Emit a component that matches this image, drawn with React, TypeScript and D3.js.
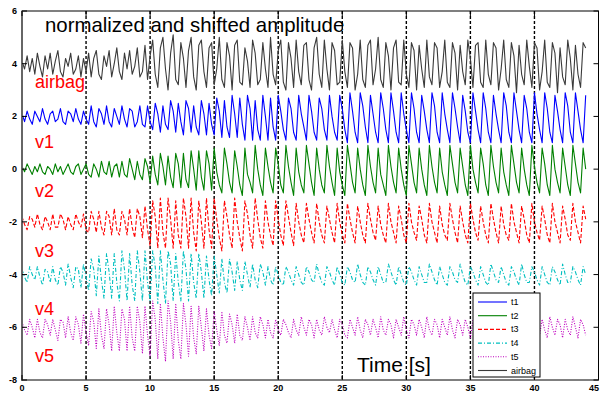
import React, { useEffect, useRef } from 'react';
import * as d3 from 'd3';

// sample step of the recorded signals, seconds
const dt = 0.2;

// offsets used to shift each normalized trace
const offsets = [4, 2, 0, -2, -4, -6];
const seriesNames = ['airbag', 'v1', 'v2', 'v3', 'v4', 'v5'];
const legendNames = ['t1', 't2', 't3', 't4', 't5', 'airbag'];

const xTicks = [0, 5, 10, 15, 20, 25, 30, 35, 40, 45];
const yTicks = [-8, -6, -4, -2, 0, 2, 4, 6];

// normalized amplitude, in tenths, before shifting
const airbag = [
  1, -2, 3, -3, 2, -4, 4, -1, -5, 3, -2, 4, -4, 1, 5, -3, -5, 2, -1, 4, -4, -2, 3, -5, 2,
  -3, 4, -5, 2, 5, -4, -6, 3, -1, 5, -5, 0, 6, -3, -6, 4, -2, 5, -4, -1, 6, -5, -3, 7, -6,
  3, 9, -4, -9, 6, 10, -2, -10, 4, 11, -6, -8, 8, 2, -9, 5, 10, -5, -10, 7, 9, -3, -9, 6, 8,
  -8, -2, 10, -6, -9, 8, 3, -10, 7, 9, -7, -8, 6, 1, -9, 9, 4, -8, -6, 8, -2, -9, 10, -4, -8,
  5, 9, -7, -10, 8, 2, -9, 9, -3, -8, 7, 8, -6, -10, 6, 10, -4, -9, 9, -2, -10, 8, 5, -8, -7,
  9, -3, -9, 8, 6, -10, -4, 9, -6, -9, 7, 9, -8, -2, 10, -6, -9, 8, 3, -10, 6, 9, -7, -8, 9,
  -4, -9, 8, 5, -10, 7, -2, -9, 9, -5, -8, 8, 6, -9, -3, 9, -7, -9, 8, 4, -10, 7, -3, -8, 9,
  2, -9, 7, 8, -7, -9, 9, -4, -8, 8, 6, -10, -2, 9, -6, -9, 8, 3, -11, 7, -4, -8, 9, -1, -9,
  8, 6, -10, -3, 9, -7, -9, 8, 4, -11, 6, -5, -8, 9, 2, -10, 7, -4, -9, 8, 6,
];

const v1 = [
  1, -2, 2, -1, -3, 2, 0, -2, 3, -1, -3, 1, 2, -2, -1, 3, -2, -3, 2, 1, -2, 3, -1, -3, 2,
  -1, -3, 4, -2, -4, 3, 1, -3, 4, -2, -4, 3, 0, -3, 4, -1, -4, 3, 2, -4, -2, 4, -3, -4, 4,
  -2, -5, 5, 1, -6, 4, -3, -5, 6, 2, -6, 5, -2, -7, 6, 3, -6, 4, -4, -7, 6, 1, -7, 5, -3,
  -7, 7, 2, -8, 6, -4, -8, 8, 1, -8, 7, -3, -9, 8, 3, -9, 6, -5, -9, 8, 0, -9, 7, -4, -9,
  8, 2, -5, -9, 7, 3, -6, -9, 8, 1, -4, -9, 8, 2, -6, -9, 7, 3, -5, -9, 8, 0, -6, -9, 8,
  3, -5, -10, 9, 2, -6, -10, 9, 4, -4, -10, 8, 1, -6, -10, 9, 3, -5, -10, 9, 2, -6, -10, 9, 1,
  -5, -10, 9, 3, -6, -10, 8, 2, -5, -10, 9, 4, -6, -10, 9, 1, -5, -10, 9, 3, -4, -10, 8, 2, -6,
  -10, 9, 2, -5, -10, 9, 3, -6, -10, 8, 1, -5, -10, 9, 4, -6, -10, 9, 2, -5, -10, 8, 3, -6, -10,
  9, 1, -5, -10, 9, 3, -6, -10, 8, 2, -5, -10, 9, 4, -6, -10, 9, 2, -5, -10, 8,
];

const v2 = [
  1, -1, 2, 0, -2, 1, -1, 2, -1, -2, 1, 0, -2, 2, -1, 1, -2, 0, 2, -1, -2, 1, 2, -2, 0,
  2, -2, -3, 2, 0, -3, 3, -1, -2, 3, -3, 1, 2, -3, 3, -2, -3, 4, 0, -4, 3, -2, -4, 4, 1,
  -5, 5, -2, -6, 6, 1, -6, 5, -3, -7, 6, 2, -7, 6, -4, -7, 7, 0, -8, 7, -3, -8, 7, 2, -8,
  8, -1, -6, -9, 8, 2, -5, -9, 7, 1, -6, -10, 8, -2, -5, -9, 9, 0, -6, -10, 8, 1, -5, -9, 8,
  2, -6, -9, 9, 1, -5, -10, 8, -1, -6, -9, 9, 2, -5, -10, 8, 0, -6, -9, 9, 1, -5, -10, 8, -1,
  -6, -10, 9, 2, -5, -9, 8, 0, -6, -10, 9, 1, -5, -9, 8, -2, -6, -10, 9, 1, -5, -9, 8, 0, -6,
  -10, 9, 2, -5, -9, 8, 0, -6, -10, 9, 1, -5, -9, 8, -1, -6, -10, 9, 2, -5, -9, 8, 1, -6, -10,
  9, 0, -5, -9, 8, 2, -6, -10, 9, 1, -5, -9, 8, -1, -6, -10, 9, 2, -5, -9, 8, 0, -6, -10, 9,
  1, -5, -9, 8, 2, -6, -10, 9, 0, -5, -9, 8, 1, -6, -10, 9, 2, -5, -9, 8, 0,
];

const v3 = [
  2, -1, -3, 2, 1, -2, 3, -1, -3, 2, 0, -3, 3, -2, -2, 3, 1, -3, 2, -1, -3, 3, 0, -2, 3,
  -3, -4, 4, 1, -4, 4, -2, -5, 4, 2, -5, 5, -3, -5, 4, 1, -5, 5, -2, -6, 5, 2, -6, 6, -3,
  -9, 8, 2, -10, 9, -4, -10, 9, 1, -10, 8, -5, -10, 9, 2, -10, 9, -4, -11, 8, 0, -10, 9, -3, -10,
  9, 1, -6, -11, 8, 2, -5, -10, 9, 0, -6, -11, 8, 3, -5, -10, 9, 1, -6, -10, 8, 0, -5, -9, 8,
  1, -5, -9, 8, 2, -4, -9, 7, 0, -5, -8, 7, 1, -4, -8, 7, 0, -5, -8, 6, 1, -4, -8, 7, 0,
  -5, -8, 7, 1, -4, -8, 6, 0, -5, -8, 7, 1, -4, -7, 6, -1, -5, -8, 7, 0, -4, -8, 6, 1, -5,
  -8, 7, 0, -4, -7, 6, 1, -5, -8, 7, 0, -4, -8, 6, -1, -5, -7, 7, 1, -4, -8, 6, 0, -5, -8,
  7, 1, -4, -7, 6, 0, -5, -8, 7, 1, -4, -8, 6, -1, -5, -7, 7, 0, -4, -8, 6, 1, -5, -8, 7,
  0, -4, -7, 6, 1, -5, -8, 7, 0, -4, -8, 6, 1, -5, -7, 7, 0, -4, -8, 6, 1,
];

const v4 = [
  2, -1, -3, 3, 0, -2, 3, -1, -4, 2, 1, -3, 3, -2, -4, 3, 1, -4, 4, -1, -5, 3, 2, -5, 4,
  -1, -6, 6, 2, -8, 7, -2, -9, 8, 1, -9, 8, -3, -10, 9, 2, -10, 8, -4, -10, 9, 1, -10, 9, -3,
  -10, 9, 3, -11, 9, -2, -11, 9, 4, -10, 8, -3, -10, 9, 2, -10, 8, -3, -9, 8, 1, -9, 7, -2, -8,
  7, 0, -7, 6, -3, -7, 6, 1, -6, 5, -2, -6, 5, 0, -5, 4, -2, -5, 4, 1, -4, 3, -2, -4, 3,
  0, -3, -4, 3, 1, -2, -4, 3, 0, -3, -4, 3, 1, -2, -3, 4, 0, -3, -4, 3, 1, -2, -4, 3, 0,
  -3, -4, 3, 1, -2, -3, 4, 0, -3, -4, 3, 1, -2, -4, 3, 0, -3, -3, 4, 1, -2, -4, 3, 0, -3,
  -4, 3, 1, -2, -4, 3, 0, -3, -3, 4, 1, -2, -4, 3, 0, -3, -4, 3, 1, -2, -3, 4, 0, -3, -4,
  3, 1, -2, -4, 3, 0, -3, -4, 4, 1, -2, -3, 3, 0, -3, -4, 3, 1, -2, -4, 4, 0, -3, -3, 3,
  1, -2, -4, 3, 0, -3, -4, 3, 1, -2, -4, 4, 0, -3, -3, 3, 1, -2, -4, 3, 0,
];

const v5 = [
  2, -1, -3, 3, 0, -4, 3, -2, -4, 3, 1, -3, 3, -1, -5, 3, 2, -4, 4, -2, -5, 4, 1, -6, 5,
  -2, -7, 6, 2, -8, 7, -3, -8, 7, 1, -9, 8, -2, -9, 7, 3, -9, 8, -4, -9, 8, 2, -10, 8, -3,
  -11, 10, 3, -12, 9, -4, -13, 10, 2, -12, 9, -5, -12, 9, 1, -11, 8, -4, -10, 8, 0, -9, 7, -3, -8,
  6, -1, -7, 6, -3, -6, 5, 1, -6, 5, -3, -5, 4, 0, -5, 4, -2, -4, 4, 1, -4, 3, -2, -4, 3,
  -1, -3, 3, 1, -2, -4, 3, -1, -3, 4, 0, -3, 3, 1, -4, 3, -1, -3, 4, 0, -2, 3, -1, -4, 3,
  1, -3, -4, 3, 0, -3, 4, -1, -4, 3, 1, -3, 3, 0, -4, 4, -1, -3, 3, 1, -4, 3, 0, -3, 4,
  -1, -4, 3, 1, -3, 3, 0, -4, 4, -1, -3, 3, 1, -4, 3, 0, -3, 4, -1, -4, 3, 1, -3, 3, 0,
  -4, 3, -1, -3, 4, 0, -4, 3, 1, -3, 3, -1, -4, 4, 0, -3, 3, 1, -4, 3, -1, -3, 4, 0, -4,
  3, 1, -3, 3, -1, -4, 4, 0, -3, 3, 1, -4, 3, -1, -3, 4, 0, -4, 3, 1, -3,
];

const traces = [airbag, v1, v2, v3, v4, v5];

// where the red trace names sit (value on the y axis of their baseline)
const labelY = [3.08, 0.81, -1.05, -3.33, -5.53, -7.31];

const styles = [
  { color: '#3a3a3a', dash: null },
  { color: '#0000ff', dash: null },
  { color: '#008000', dash: null },
  { color: '#ff0000', dash: '4,2' },
  { color: '#00bfbf', dash: '4,2,1,2' },
  { color: '#bf00bf', dash: '1,1.5' },
];
// legend order: t1..t5, then airbag
const legendStyle = [1, 2, 3, 4, 5, 0];

const W = 600;
const H = 393;
const font = '"Liberation Sans", Arial, sans-serif';

const App = () => {
  const ref = useRef<SVGSVGElement>(null);

  useEffect(() => {
    if (!ref.current) return;
    const svg = d3.select(ref.current);
    svg.selectAll('*').remove();

    const left = 22, right = 598.5, top = 11, bottom = 380;
    const x = d3.scaleLinear().domain([0, 45]).range([left, right]);
    const y = d3.scaleLinear().domain([-8, 6]).range([bottom, top]);

    svg.append('rect').attr('width', W).attr('height', H).attr('fill', '#fff');

    // vertical dashed grid
    svg.append('g')
      .selectAll('line')
      .data(xTicks.filter(t => t > 0 && t < 45))
      .enter()
      .append('line')
      .attr('x1', d => x(d)).attr('x2', d => x(d))
      .attr('y1', top).attr('y2', bottom)
      .attr('stroke', '#000')
      .attr('stroke-width', 1.4)
      .attr('stroke-dasharray', '3,2');

    // traces
    const line = d3.line<number>()
      .x((_, i) => x(i * dt))
      .y(d => y(d));

    traces.forEach((tr, k) => {
      const vals = tr.map(v => offsets[k] + v / 10);
      const p = svg.append('path')
        .attr('d', line(vals) as string)
        .attr('fill', 'none')
        .attr('stroke', styles[k].color)
        .attr('stroke-width', 1.1)
        .attr('stroke-linejoin', 'round');
      if (styles[k].dash) p.attr('stroke-dasharray', styles[k].dash as string);
    });

    // frame
    svg.append('rect')
      .attr('x', left).attr('y', top)
      .attr('width', right - left).attr('height', bottom - top)
      .attr('fill', 'none').attr('stroke', '#000').attr('stroke-width', 1);
    svg.append('line')
      .attr('x1', left).attr('x2', left).attr('y1', top).attr('y2', bottom + 1)
      .attr('stroke', '#666').attr('stroke-width', 2);

    // inward ticks
    const tk = 5;
    const tg = svg.append('g').attr('stroke', '#000').attr('stroke-width', 1);
    xTicks.forEach(t => {
      tg.append('line').attr('x1', x(t)).attr('x2', x(t)).attr('y1', bottom).attr('y2', bottom - tk);
      tg.append('line').attr('x1', x(t)).attr('x2', x(t)).attr('y1', top).attr('y2', top + tk);
    });
    yTicks.forEach(t => {
      tg.append('line').attr('x1', left).attr('x2', left + tk).attr('y1', y(t)).attr('y2', y(t));
      tg.append('line').attr('x1', right).attr('x2', right - tk).attr('y1', y(t)).attr('y2', y(t));
    });

    // tick labels
    svg.append('g')
      .selectAll('text')
      .data(yTicks)
      .enter()
      .append('text')
      .attr('x', 17)
      .attr('y', d => y(d) + 3)
      .attr('text-anchor', 'end')
      .attr('font-family', font)
      .attr('font-size', 9)
      .attr('font-weight', 'bold')
      .text(d => String(d));

    // last label would run off the page, so pin it to the right edge
    svg.append('g')
      .selectAll('text')
      .data(xTicks)
      .enter()
      .append('text')
      .attr('x', d => (d === 45 ? W - 1 : x(d)))
      .attr('y', 391)
      .attr('text-anchor', d => (d === 45 ? 'end' : 'middle'))
      .attr('font-family', font)
      .attr('font-size', 9)
      .attr('font-weight', 'bold')
      .text(d => String(d));

    // titles
    svg.append('text')
      .attr('x', 45).attr('y', 32)
      .attr('font-family', font).attr('font-size', 20.4)
      .attr('fill', '#000')
      .text('normalized and shifted amplitude');

    svg.append('text')
      .attr('x', 357).attr('y', 372)
      .attr('font-family', font).attr('font-size', 21)
      .attr('fill', '#000')
      .text('Time [s]');

    // red trace names
    svg.append('g')
      .selectAll('text')
      .data(seriesNames)
      .enter()
      .append('text')
      .attr('x', 35)
      .attr('y', (_, i) => y(labelY[i]))
      .attr('font-family', font)
      .attr('font-size', 18)
      .attr('fill', '#ff0000')
      .text(d => d);

    // legend
    const lg = svg.append('g');
    lg.append('rect')
      .attr('x', 473).attr('y', 293).attr('width', 67).attr('height', 84)
      .attr('fill', '#fff').attr('stroke', '#000').attr('stroke-width', 1);
    legendNames.forEach((name, i) => {
      const st = styles[legendStyle[i]];
      const yy = 302 + i * 13.7;
      const l = lg.append('line')
        .attr('x1', 478).attr('x2', 507).attr('y1', yy).attr('y2', yy)
        .attr('stroke', st.color).attr('stroke-width', 1.1);
      if (st.dash) l.attr('stroke-dasharray', st.dash as string);
      lg.append('text')
        .attr('x', 511).attr('y', yy + 3)
        .attr('font-family', font).attr('font-size', 9)
        .text(name);
    });
  }, []);

  return (
    <svg
      ref={ref}
      width={W}
      height={H}
      style={{ position: 'absolute', left: 0, top: 0, display: 'block' }}
    />
  );
};

export default App;
